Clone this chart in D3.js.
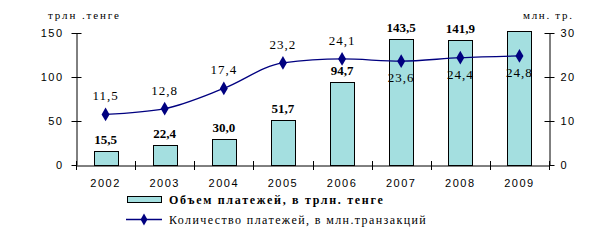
<!DOCTYPE html>
<html><head><meta charset="utf-8">
<script src="https://cdn.jsdelivr.net/npm/d3@7"></script>
<style>body{margin:0;background:#fff}svg{display:block}</style>
</head><body>
<script>
const years = ["2002","2003","2004","2005","2006","2007","2008","2009"];
const volume = [15.5, 22.4, 30.0, 51.7, 94.7, 143.5, 141.9, 152.3];
const volumeLabels = ["15,5","22,4","30,0","51,7","94,7","143,5","141,9",""];
const count = [11.5, 12.8, 17.4, 23.2, 24.1, 23.6, 24.4, 24.8];
const countLabels = ["11,5","12,8","17,4","23,2","24,1","23,6","24,4","24,8"];
const countLabelBelow = [false,false,false,false,false,true,true,true];
const leftTicks = [0, 50, 100, 150];
const rightTicks = [0, 10, 20, 30];
const leftUnit = "трлн .тенге";
const rightUnit = "млн. тр.";
const legendBar = "Объем платежей, в трлн. тенге";
const legendLine = "Количество платежей, в млн.транзакций";

const W = 600, H = 245;
const svg = d3.select("body").append("svg").attr("width", W).attr("height", H);
const x0 = 76, x1 = 549, yTop = 33, yBot = 165;
const xs = d3.scaleBand().domain(years).range([x0, x1]);
const yL = d3.scaleLinear().domain([0, 150]).range([yBot, yTop]);
const yR = d3.scaleLinear().domain([0, 30]).range([yBot, yTop]);
const fill = "#a4dfe0", navy = "#000080";
const serif = "'Liberation Serif','Times New Roman',serif";

// bars
svg.selectAll("rect.bar").data(years).join("rect")
  .attr("x", d => Math.round(xs(d) + xs.bandwidth()/2 - 12) + 0.5)
  .attr("y", (d,i) => Math.round(yL(volume[i])) + 0.5)
  .attr("width", 24)
  .attr("height", (d,i) => yBot - Math.round(yL(volume[i])))
  .attr("fill", fill).attr("stroke", "#000").attr("stroke-width", 1);

// axes
const axL = svg.append("g").attr("transform", `translate(${x0+0.5},0)`)
  .call(d3.axisLeft(yL).tickValues(leftTicks).tickSize(5).tickSizeOuter(0).tickFormat(d3.format("d")));
const axR = svg.append("g").attr("transform", `translate(${x1+0.5},0)`)
  .call(d3.axisRight(yR).tickValues(rightTicks).tickSize(5).tickSizeOuter(0).tickFormat(d3.format("d")));
axR.selectAll(".tick line").attr("x1", -5).attr("x2", 5);
axL.selectAll(".tick line").attr("x1", -5).attr("x2", 5);
axL.select(".tick:first-of-type line").attr("x2", 0);
axR.select(".tick:first-of-type line").attr("x1", 0);
const axB = svg.append("g").attr("transform", `translate(0,${yBot+0.5})`)
  .call(d3.axisBottom(xs).tickSize(0).tickSizeOuter(0));
const bounds = years.map(d => xs(d)).concat([x1]);
svg.selectAll("line.bt").data(bounds).join("line")
  .attr("x1", d => Math.round(d)+0.5).attr("x2", d => Math.round(d)+0.5)
  .attr("y1", yBot - 4).attr("y2", yBot + 5).attr("stroke", "#000");

[axL, axR, axB].forEach(a => {
  a.selectAll("path.domain").attr("stroke", "#000");
  a.selectAll(".tick line").attr("stroke", "#000");
  a.selectAll("text").attr("fill", "#000").attr("font-family", "'Liberation Sans',Arial,sans-serif")
    .attr("font-size", 11).attr("letter-spacing", "1.5px");
});
axL.selectAll("text").attr("x", -13);
axR.selectAll("text").attr("x", 11);
axB.selectAll("text").attr("dy", "0").attr("y", 21);

// units
svg.append("text").attr("x", 48).attr("y", 19).text(leftUnit)
  .attr("font-family", serif).attr("font-size", 11).attr("letter-spacing", "1.9px");
svg.append("text").attr("x", 523).attr("y", 19).text(rightUnit)
  .attr("font-family", serif).attr("font-size", 11).attr("letter-spacing", "1.7px");

// bar labels
svg.selectAll("text.bl").data(years).join("text")
  .attr("x", d => xs(d) + xs.bandwidth()/2)
  .attr("y", (d,i) => yL(volume[i]) - 7)
  .attr("text-anchor", "middle")
  .attr("font-family", serif).attr("font-weight", "bold").attr("font-size", 13)
  .text((d,i) => volumeLabels[i]);

// line
const pts = years.map((d,i) => [xs(d) + xs.bandwidth()/2, yR(count[i])]);
svg.append("path").attr("d", d3.line().curve(d3.curveMonotoneX)(pts))
  .attr("fill", "none").attr("stroke", navy).attr("stroke-width", 1.3);
svg.selectAll("path.mk").data(pts).join("path")
  .attr("d", d3.symbol(d3.symbolDiamond, 55))
  .attr("transform", d => `translate(${d[0]},${d[1]})`).attr("fill", navy);

// line labels
svg.selectAll("text.ll").data(years).join("text")
  .attr("x", d => xs(d) + xs.bandwidth()/2)
  .attr("y", (d,i) => yR(count[i]) + (countLabelBelow[i] ? 21 : -14))
  .attr("text-anchor", "middle")
  .attr("font-family", serif).attr("font-size", 13).attr("letter-spacing", "1px")
  .text((d,i) => countLabels[i]);

// legend
svg.append("rect").attr("x", 127.5).attr("y", 196.5).attr("width", 34).attr("height", 6)
  .attr("fill", fill).attr("stroke", "#000");
svg.append("text").attr("x", 169).attr("y", 204).text(legendBar)
  .attr("font-family", serif).attr("font-weight", "bold").attr("font-size", 12).attr("letter-spacing", "1.7px");
svg.append("line").attr("x1", 126).attr("x2", 162).attr("y1", 219.5).attr("y2", 219.5)
  .attr("stroke", navy).attr("stroke-width", 1.3);
svg.append("path").attr("d", d3.symbol(d3.symbolDiamond, 40))
  .attr("transform", "translate(144,219.5)").attr("fill", navy);
svg.append("text").attr("x", 169).attr("y", 224).text(legendLine)
  .attr("font-family", serif).attr("font-size", 12).attr("letter-spacing", "1.4px");
</script>
</body></html>
